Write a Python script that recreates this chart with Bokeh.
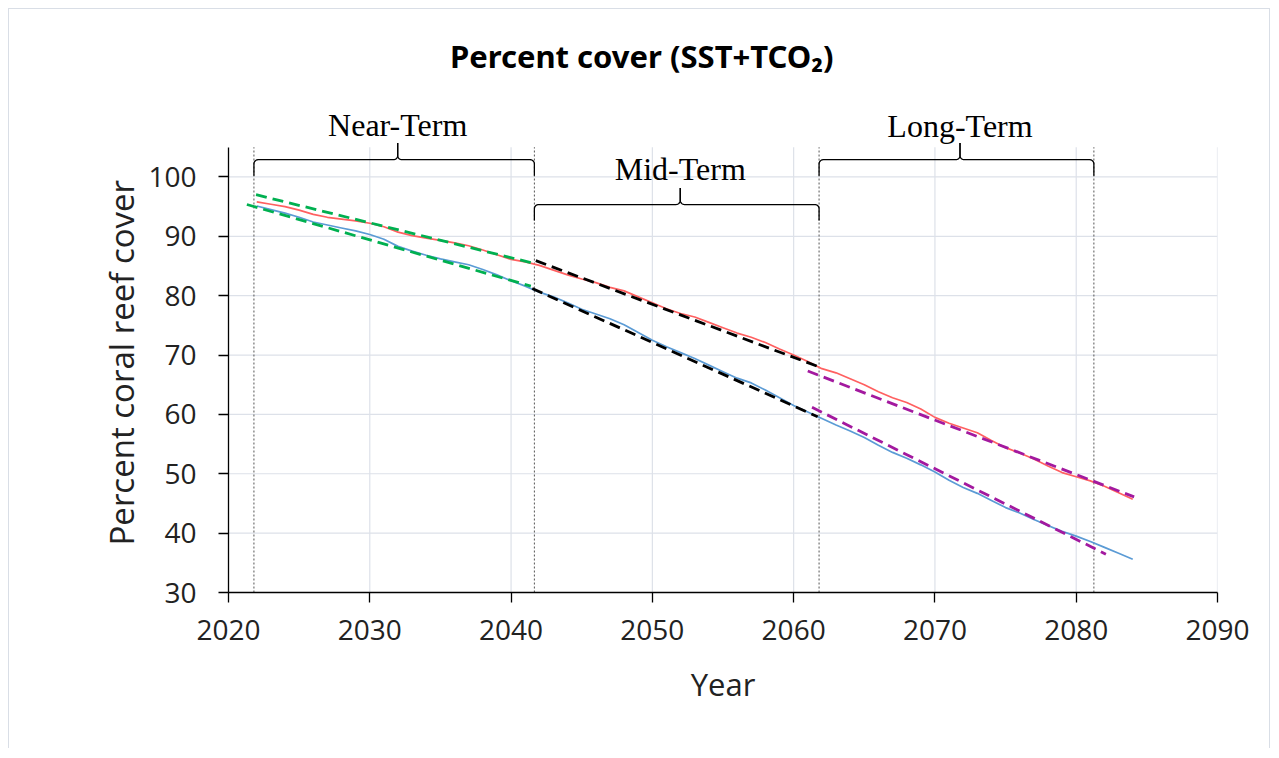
import numpy as np
from bokeh.plotting import figure
from bokeh.models import Range1d, FixedTicker, Title
from bokeh.core.properties import value
from bokeh.embed import file_html
from bokeh.resources import INLINE

# ---------------- data ----------------
years = list(range(2022, 2085))
cover_upper = [95.8, 95.4, 95.0, 94.4, 93.7, 93.2, 92.9, 92.6, 92.2, 91.6,
               90.7, 90.1, 89.7, 89.3, 88.9, 88.4, 87.7, 86.9, 86.1, 85.7,
               85.1, 84.3, 83.5, 82.8, 82.2, 81.4, 80.8, 79.8, 78.8, 77.8,
               77.0, 76.4, 75.5, 74.6, 73.7, 73.0, 72.1, 71.0, 70.0, 68.9,
               67.7, 67.0, 66.0, 65.0, 63.8, 62.8, 62.0, 60.9, 59.5, 58.5,
               57.7, 56.9, 55.6, 54.4, 53.5, 52.5, 51.3, 50.2, 49.5, 48.8,
               47.9, 46.8, 45.7]
cover_lower = [95.1, 94.5, 93.9, 93.2, 92.4, 91.9, 91.4, 90.9, 90.3, 89.5,
               88.3, 87.5, 86.8, 86.2, 85.7, 85.2, 84.4, 83.5, 82.5, 81.6,
               80.6, 79.8, 78.8, 77.7, 76.9, 76.1, 75.1, 73.8, 72.5, 71.4,
               70.4, 69.4, 68.3, 67.2, 66.1, 65.3, 64.1, 62.8, 61.5, 60.4,
               59.3, 58.2, 57.2, 56.1, 54.8, 53.6, 52.6, 51.5, 50.3, 48.9,
               47.7, 46.7, 45.5, 44.3, 43.4, 42.3, 41.3, 40.3, 39.5, 38.6,
               37.6, 36.6, 35.6]

near_upper_x = [2021.95, 2041.6]
near_upper_y = [97.0, 85.45]
near_lower_x = [2021.3, 2041.4]
near_lower_y = [95.35, 81.6]
mid_upper_x = [2041.75, 2061.8]
mid_upper_y = [85.9, 68.0]
mid_lower_x = [2041.5, 2061.7]
mid_lower_y = [81.2, 59.6]
long_upper_x = [2061.0, 2084.1]
long_upper_y = [67.3, 46.1]
long_lower_x = [2061.3, 2082.1]
long_lower_y = [61.2, 36.45]

term_bounds = [2021.8, 2041.65, 2061.8, 2081.25]
term_names = ["Near-Term", "Mid-Term", "Long-Term"]
brace_level = [102.9, 95.35, 102.9]
label_level = [108.7, 101.3, 108.6]

x_ticks = [2020, 2030, 2040, 2050, 2060, 2070, 2080, 2090]
y_ticks = [30, 40, 50, 60, 70, 80, 90, 100]
x_lim = (2020, 2090)
y_lim = (30, 105)

title_text = "Percent cover (SST+TCO\u2082)"
x_title = "Year"
y_title = "Percent coral reef cover"

# ---------------- figure ----------------
p = figure(width=1262, height=740,
           x_range=Range1d(2020, 2090), y_range=Range1d(30, 125),
           output_backend="svg", toolbar_location=None,
           min_border_left=219, min_border_right=54,
           min_border_top=19, min_border_bottom=157,
           outline_line_color=None, background_fill_color="white",
           border_fill_color="white", margin=(8, 0, 0, 8))
p.styles = {"border-top": "1px solid #d9dee6",
            "border-left": "1px solid #d9dee6",
            "border-right": "1px solid #d9dee6"}

p.xgrid.visible = False
p.ygrid.visible = False

for ax, ticks, bnd in ((p.xaxis, x_ticks, x_lim), (p.yaxis, y_ticks, y_lim)):
    ax.ticker = FixedTicker(ticks=ticks)
    ax.bounds = bnd
    ax.axis_line_color = "black"
    ax.axis_line_width = 1.3
    ax.major_tick_line_color = "black"
    ax.major_tick_line_width = 1.3
    ax.major_tick_out = 10
    ax.major_tick_in = 0
    ax.minor_tick_line_color = None
    ax.major_label_text_font = "Open Sans"
    ax.major_label_text_font_size = "28px"
    ax.major_label_text_color = "#222222"
    ax.axis_label_text_font = "Open Sans"
    ax.axis_label_text_font_style = "normal"
    ax.axis_label_text_color = "#222222"

p.xaxis.axis_label = x_title
p.xaxis.axis_label_text_font_size = "31px"
p.xaxis.major_label_standoff = 17
p.yaxis.major_label_standoff = 22
p.xaxis.axis_label_standoff = 20

# y-axis title placed along the bounded part of the axis
p.add_layout(Title(text=y_title, align="left", offset=47, standoff=3,
                   text_font="Open Sans", text_font_size="33px",
                   text_font_style="normal", text_color="#222222"), "left")

# grid lines (bounded to the axis extent)
grid_col = "#dde1e9"
p.segment(x0=x_ticks[1:], x1=x_ticks[1:], y0=[y_lim[0]] * (len(x_ticks) - 1),
          y1=[y_lim[1]] * (len(x_ticks) - 1), line_color=grid_col, line_width=1.2)
p.segment(x0=[x_lim[0]] * (len(y_ticks) - 1), x1=[x_lim[1]] * (len(y_ticks) - 1),
          y0=y_ticks[1:], y1=y_ticks[1:], line_color=grid_col, line_width=1.2)

# dotted term boundaries
p.segment(x0=term_bounds, x1=term_bounds, y0=[y_lim[0]] * len(term_bounds),
          y1=[y_lim[1]] * len(term_bounds), line_color="#555555",
          line_width=1, line_dash="2 2")

# braces
def brace_path(x0, x1, yh, drop=2.7, rise=2.8, rx=0.3, ry=0.7, shift=0.25):
    xc = (x0 + x1) / 2 + shift
    t = np.linspace(0, np.pi / 2, 10)
    lx = np.concatenate([[x0], x0 + rx - rx * np.cos(t), xc - rx + rx * np.sin(t), [xc]])
    ly = np.concatenate([[yh - drop], yh - ry + ry * np.sin(t), yh + ry - ry * np.cos(t), [yh + rise]])
    rxp = np.concatenate([[x1], x1 - rx + rx * np.cos(t), xc + rx - rx * np.sin(t), [xc]])
    return lx, ly, rxp, ly, xc

label_x = []
for i in range(3):
    lx, ly, rxp, ry_, xc = brace_path(term_bounds[i], term_bounds[i + 1], brace_level[i])
    p.line(lx, ly, line_color="black", line_width=1.3)
    p.line(rxp, ry_, line_color="black", line_width=1.3)
    label_x.append(xc)

p.text(x=label_x, y=label_level, text=term_names, text_font=value("Liberation Serif"),
       text_font_size=value("32px"), text_align="center", text_baseline="middle",
       text_color="black")

# title
p.text(x=[2049.25], y=[120.3], text=[title_text],
       text_font=value("Noto Sans"), text_font_size=value("31px"),
       text_font_style="bold", text_align="center", text_baseline="middle",
       text_color="black")

# data lines
p.line(years, cover_upper, line_color="#ff6060", line_width=1.7)
p.line(years, cover_lower, line_color="#5b9bd5", line_width=1.7)

# trend lines
dash = "11 6"
p.line(near_upper_x, near_upper_y, line_color="#00b050", line_width=2.8, line_dash=dash)
p.line(near_lower_x, near_lower_y, line_color="#00b050", line_width=2.8, line_dash=dash)
p.line(mid_upper_x, mid_upper_y, line_color="black", line_width=2.8, line_dash=dash)
p.line(mid_lower_x, mid_lower_y, line_color="black", line_width=2.8, line_dash=dash)
p.line(long_upper_x, long_upper_y, line_color="#a3199f", line_width=2.8, line_dash=dash)
p.line(long_lower_x, long_lower_y, line_color="#a3199f", line_width=2.8, line_dash=dash)

open("out.html", "w").write(file_html(p, INLINE))
